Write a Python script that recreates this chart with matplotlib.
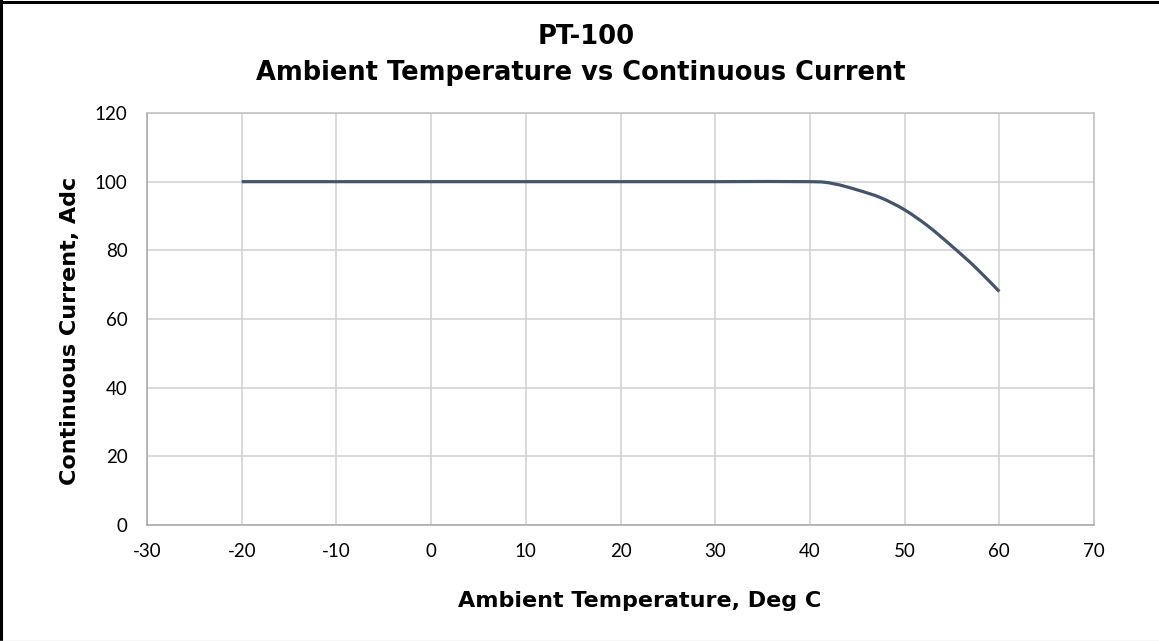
import matplotlib
matplotlib.use("Agg")
import matplotlib.pyplot as plt
from matplotlib.lines import Line2D
from matplotlib.path import Path
from matplotlib.patches import PathPatch

# Derating curve for the PT-100
temperature_c = [-20, -10, 0, 10, 20, 30, 40, 42.5, 45, 47.5, 50, 52.5, 55, 57.5, 60]
current_adc = [100, 100, 100, 100, 100, 100, 100, 99.4, 97.6, 95.3, 91.8, 87.0, 81.2, 75.0, 68.0]

x_ticks = [-30, -20, -10, 0, 10, 20, 30, 40, 50, 60, 70]
y_ticks = [0, 20, 40, 60, 80, 100, 120]

title_lines = ["PT-100", "Ambient Temperature vs Continuous Current"]
x_label = "Ambient Temperature, Deg C"
y_label = "Continuous Current, Adc"


def smooth_path(xs, ys):
    """Cubic Bezier path through the points (Catmull-Rom style smoothing)."""
    pts = list(zip(xs, ys))
    n = len(pts)
    verts = [pts[0]]
    codes = [Path.MOVETO]
    for i in range(n - 1):
        p0 = pts[i - 1] if i > 0 else pts[i]
        p1 = pts[i]
        p2 = pts[i + 1]
        p3 = pts[i + 2] if i + 2 < n else pts[i + 1]
        c1 = (p1[0] + (p2[0] - p0[0]) / 6, p1[1] + (p2[1] - p0[1]) / 6)
        c2 = (p2[0] - (p3[0] - p1[0]) / 6, p2[1] - (p3[1] - p1[1]) / 6)
        verts += [c1, c2, p2]
        codes += [Path.CURVE4] * 3
    return Path(verts, codes)


W, H = 1159, 641
fig = plt.figure(figsize=(W / 100, H / 100), dpi=100)
fig.patch.set_facecolor("white")

ax = fig.add_axes([147 / W, 1 - 525 / H, (1094 - 147) / W, (525 - 113) / H])
curve = PathPatch(smooth_path(temperature_c, current_adc), facecolor="none",
                  edgecolor="#44546A", linewidth=2.3, capstyle="butt",
                  joinstyle="round", zorder=3)
ax.add_patch(curve)

ax.set_xlim(x_ticks[0], x_ticks[-1])
ax.set_ylim(y_ticks[0], y_ticks[-1])
ax.set_xticks(x_ticks)
ax.set_yticks(y_ticks)
ax.set_xticklabels([str(v) for v in x_ticks])
ax.set_yticklabels([str(v) for v in y_ticks])
ax.tick_params(length=0, labelsize=13.5, colors="black")
ax.tick_params(axis="x", pad=13)
ax.tick_params(axis="y", pad=14)
for lab in ax.get_xticklabels() + ax.get_yticklabels():
    lab.set_family(["Lato", "DejaVu Sans"])

ax.grid(True, color="#D0D0D0", linewidth=1.1)
ax.set_axisbelow(True)
for name, sp in ax.spines.items():
    sp.set_color("#BFBFBF")
    sp.set_linewidth(1.1)
ax.spines["left"].set_color("#A6A6A6")
ax.spines["bottom"].set_color("#A6A6A6")

bold = dict(family=["DejaVu Sans"], weight="bold", color="black")
fig.text(586 / W, 1 - 44 / H, title_lines[0], ha="center", va="baseline", fontsize=18.5, **bold)
fig.text(581 / W, 1 - 80 / H, title_lines[1], ha="center", va="baseline", fontsize=18.5, **bold)
fig.text(458 / W, 1 - 607 / H, x_label, ha="left", va="baseline", fontsize=16, **bold)
fig.text(70 / W, 1 - 331 / H, y_label, ha="center", va="center", rotation=90, fontsize=16, **bold)

# Outer chart frame: heavy black on left and top, faint grey at the bottom
fig.add_artist(Line2D([1.5 / W, 1.5 / W], [0, 1], color="black", linewidth=2.2,
                      transform=fig.transFigure))
fig.add_artist(Line2D([0, 1], [1 - 1.5 / H, 1 - 1.5 / H], color="black", linewidth=2.2,
                      transform=fig.transFigure))
fig.add_artist(Line2D([0, 1], [0.5 / H, 0.5 / H], color="#D9D9D9", linewidth=1.0,
                      transform=fig.transFigure))

fig.savefig("out.png", dpi=100, facecolor="white")
